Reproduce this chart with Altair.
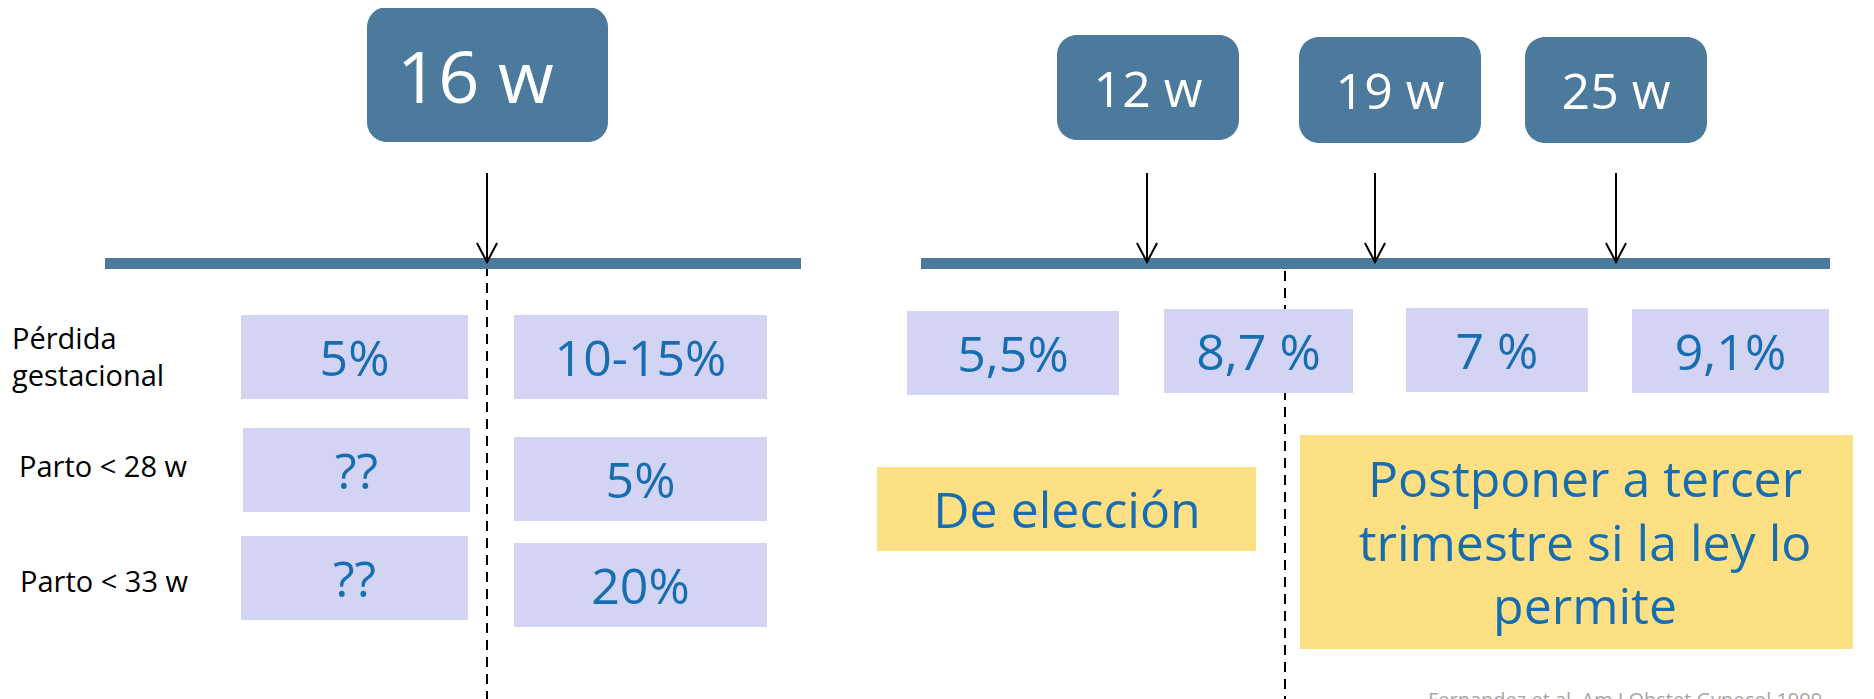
import altair as alt
import pandas as pd

# ---------------- content ----------------
cutoff_label = "16 w"
row_labels = ["Pérdida\ngestacional", "Parto < 28 w", "Parto < 33 w"]
before_cutoff = ["5%", "??", "??"]
after_cutoff = ["10-15%", "5%", "20%"]
study_weeks = ["12 w", "19 w", "25 w"]
study_loss = ["5,5%", "8,7 %", "7 %", "9,1%"]
advice = ["De elección", "Postponer a tercer\ntrimestre si la ley lo\npermite"]
source = "Fernandez et al. Am J Obstet Gynecol 1999"

# ---------------- layout (page pixels) ----------------
timeline_x = [(105, 801), (921, 1830)]
timeline_y = (258, 269)
cutoff_box = (367, 608, 7, 142)
week_boxes_x = [(1057, 1239), (1299, 1481), (1525, 1707)]
week_boxes_y = [(35, 140), (37, 143), (37, 143)]
arrow_x = [487, 1147, 1375, 1616]
arrow_y = (173, 262)
dash_x = [487, 1285]
dash_y0 = [266, 271]
left_col1_x = [(241, 468), (243, 470), (241, 468)]
left_col1_y = [(315, 399), (428, 512), (536, 620)]
left_col2_x = [(514, 767), (514, 767), (514, 767)]
left_col2_y = [(315, 399), (437, 521), (543, 627)]
right_boxes_x = [(907, 1119), (1164, 1353), (1406, 1588), (1632, 1829)]
right_boxes_y = [(311, 395), (309, 393), (308, 392), (309, 393)]
advice_x = [(877, 1256), (1300, 1853)]
advice_y = [(467, 551), (435, 649)]
label_pos = [(12, 349), (19, 477), (20, 592)]

DARK = "#4b7a9c"
PURPLE = "#d3d3f3"
YELLOW = "#fde084"
BLUE = "#166eb1"
FONT = "Open Sans"

W, H = 1858, 691
xs = alt.Scale(domain=[8, 8 + W], nice=False, zero=False)
ys = alt.Scale(domain=[8, 8 + H], nice=False, zero=False, reverse=True)


def X(f="x"):
    return alt.X(f"{f}:Q", scale=xs, axis=None)


def Y(f="y"):
    return alt.Y(f"{f}:Q", scale=ys, axis=None)


def rect_df(xx, yy):
    return pd.DataFrame({"x1": [a for a, b in xx], "x2": [b for a, b in xx],
                         "y1": [a for a, b in yy], "y2": [b for a, b in yy]})


def rects(df, color, radius=0):
    return alt.Chart(df).mark_rect(color=color, cornerRadius=radius).encode(
        x=X("x1"), x2="x2:Q", y=Y("y1"), y2="y2:Q")


# rectangles
timeline = rects(rect_df(timeline_x, [timeline_y] * 2), DARK)
dark = rects(rect_df([cutoff_box[:2]] + week_boxes_x,
                     [cutoff_box[2:]] + week_boxes_y), DARK, 20)
purple = rects(rect_df(left_col1_x + left_col2_x + right_boxes_x,
                       left_col1_y + left_col2_y + right_boxes_y), PURPLE)
yellow = rects(rect_df(advice_x, advice_y), YELLOW)

# dashed cut-off lines
dash_df = pd.DataFrame({"x": dash_x, "y": dash_y0, "y2": [699, 699]})
dashes = alt.Chart(dash_df).mark_rule(color="black", strokeWidth=2,
                                      strokeDash=[10, 7]).encode(
    x=X(), y=Y(), y2="y2:Q")

# arrows
arr_df = pd.DataFrame({"x": arrow_x, "y": [arrow_y[0]] * 4, "y2": [arrow_y[1]] * 4})
shafts = alt.Chart(arr_df).mark_rule(color="black", strokeWidth=2).encode(
    x=X(), y=Y(), y2="y2:Q")
heads = alt.Chart(arr_df).mark_point(
    shape="M -0.53 -1 L 0 0 L 0.53 -1", size=1444, filled=False,
    color="black", strokeWidth=2, opacity=1).encode(x=X(), y=Y("y2"))


def centers(xx, yy, off):
    return [(a + b) / 2 for a, b in xx], [(a + b) / 2 + off for a, b in yy]


# white week labels
wx, wy = centers(week_boxes_x, week_boxes_y, 19)
week_txt = alt.Chart(pd.DataFrame({"x": wx, "y": wy, "t": study_weeks})).mark_text(
    font=FONT, fontSize=50, color="white", align="center", baseline="alphabetic").encode(
    x=X(), y=Y(), text="t:N")
cut_txt = alt.Chart(pd.DataFrame({"x": [397], "y": [103], "t": [cutoff_label]})).mark_text(
    font=FONT, fontSize=72, color="white", align="left", baseline="alphabetic").encode(
    x=X(), y=Y(), text="t:N")

# blue value labels
vx, vy = centers(left_col1_x + left_col2_x + right_boxes_x,
                 left_col1_y + left_col2_y + right_boxes_y, 19)
val_txt = alt.Chart(pd.DataFrame({"x": vx, "y": vy,
                                  "t": before_cutoff + after_cutoff + study_loss})).mark_text(
    font=FONT, fontSize=50, color=BLUE, align="center", baseline="alphabetic").encode(
    x=X(), y=Y(), text="t:N")

adv_df = pd.DataFrame({"x": [1067, 1585], "y": [528, 497], "t": advice})
adv_txt = alt.Chart(adv_df).mark_text(
    font=FONT, fontSize=50, color=BLUE, align="center", baseline="alphabetic",
    lineBreak="\n", lineHeight=63.5).encode(x=X(), y=Y(), text="t:N")

# row labels
lab_df = pd.DataFrame({"x": [p[0] for p in label_pos], "y": [p[1] for p in label_pos],
                       "t": row_labels})
lab_txt = alt.Chart(lab_df).mark_text(
    font=FONT, fontSize=29, color="black", align="left", baseline="alphabetic",
    lineBreak="\n", lineHeight=37).encode(x=X(), y=Y(), text="t:N")

src_txt = alt.Chart(pd.DataFrame({"x": [1428], "y": [707], "t": [source]})).mark_text(
    font=FONT, fontSize=20, color="#a6a6a6", align="left", baseline="alphabetic").encode(
    x=X(), y=Y(), text="t:N")

chart = alt.layer(
    dashes, timeline, dark, purple, yellow, shafts, heads,
    week_txt, cut_txt, val_txt, adv_txt, lab_txt, src_txt
).properties(
    width=W, height=H, padding=0,
    autosize=alt.AutoSizeParams(type="none"), background="white"
).configure_view(strokeWidth=0)

chart.save("out.html", embed_options={"renderer": "svg", "actions": False})
